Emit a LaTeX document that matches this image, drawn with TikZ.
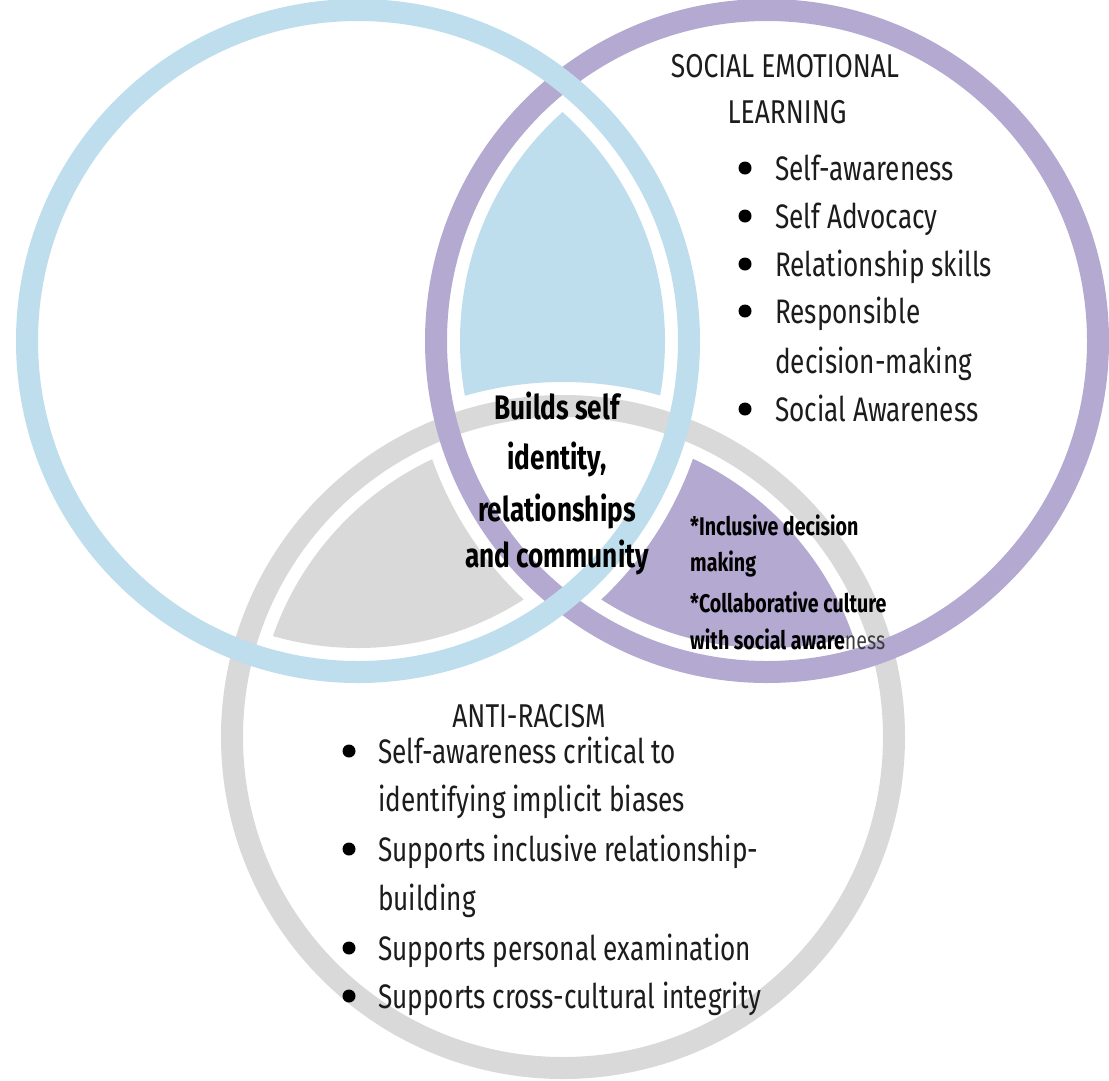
\documentclass[tikz,border=0pt]{standalone}
\usepackage{fontspec}
\setmainfont{Fira Sans}[FakeStretch=0.77]
\newfontfamily\headf{Fira Sans}[FakeStretch=0.8]
\newfontfamily\condbold{Fira Sans}[FakeStretch=0.77]
\definecolor{ringblue}{RGB}{190,222,238}
\definecolor{ringpurple}{RGB}{180,169,209}
\definecolor{ringgray}{RGB}{217,217,217}
\definecolor{txt}{RGB}{28,28,28}
\begin{document}
\begin{tikzpicture}[x=1pt,y=-1pt,
  ring/.style={line width=22pt},
  body/.style={font=\fontsize{34}{40}\selectfont, text=txt, inner sep=0pt, anchor=base west},
  heading/.style={font=\headf\fontsize{33}{40}\selectfont, text=txt, inner sep=0pt, anchor=base},
  core/.style={font=\condbold\bfseries\fontsize{34}{40}\selectfont, text=black, inner sep=0pt, anchor=base},
  note/.style={font=\condbold\bfseries\fontsize{25.5}{30}\selectfont, text=black, inner sep=0pt, anchor=base west},
  dot/.style={fill=black}]
\useasboundingbox (0,0) rectangle (1109,1080);
\fill[white] (0,0) rectangle (1109,1080);
\coordinate (B) at (358,341);
\coordinate (P) at (767,341);
\coordinate (G) at (563,737);

% filled lenses
\begin{scope}
  \clip (B) circle (307pt);
  \clip (P) circle (307pt);
  \fill[ringblue, even odd rule] (0,0) rectangle (1109,1080) (G) circle (355pt);
\end{scope}
\begin{scope}
  \clip (B) circle (307pt);
  \clip (G) circle (307pt);
  \fill[ringgray, even odd rule] (0,0) rectangle (1109,1080) (P) circle (355pt);
\end{scope}
\begin{scope}
  \clip (P) circle (307pt);
  \clip (G) circle (307pt);
  \fill[ringpurple, even odd rule] (0,0) rectangle (1109,1080) (B) circle (355pt);
\end{scope}

% rings
\draw[ring, ringgray] (G) circle (331pt);
\draw[ring, ringpurple] (P) circle (331pt);
\draw[ring, ringblue] (B) circle (331pt);

% SEL
\node[heading] (selA) at (785,77) {SOCIAL EMOTIONAL};
\node[heading] (selB) at (787,123) {LEARNING};
\node[body] (s1) at (775,180) {Self-awareness};
\node[body] (s2) at (775,228) {Self Advocacy};
\node[body] (s3) at (775,276) {Relationship skills};
\node[body] (s4) at (775,323) {Responsible};
\node[body] (s4b) at (775,373) {decision-making};
\node[body] (s5) at (775,421) {Social Awareness};
\foreach \yy in {180,228,276,323,421} \fill[dot] (745,\yy-12) circle (6.5pt);

% center
\node[core] (c1) at (557,419) {Builds self};
\node[core] (c2) at (557,469) {identity,};
\node[core] (c3) at (557,521) {relationships};
\node[core] (c4) at (557,567) {and community};

% purple lens text
\node[note] (n1) at (690,535) {*Inclusive decision};
\node[note] (n2) at (690,571) {making};
\node[note] (n3) at (690,612) {*Collaborative culture};
\node[note] (n4) at (690,649) {with social aware{\mdseries\color{txt!85}ness}};

% Anti-racism
\node[heading] (arA) at (529,727) {ANTI-RACISM};
\node[body] (a1) at (378,763) {Self-awareness critical to};
\node[body] (a1b) at (378,811) {identifying implicit biases};
\node[body] (a2) at (378,861) {Supports inclusive relationship-};
\node[body] (a2b) at (378,910) {building};
\node[body] (a3) at (378,960) {Supports personal examination};
\node[body] (a4) at (378,1008) {Supports cross-cultural integrity};
\foreach \yy in {763,861,960,1008} \fill[dot] (349,\yy-12) circle (6.5pt);
\end{tikzpicture}
\end{document}
